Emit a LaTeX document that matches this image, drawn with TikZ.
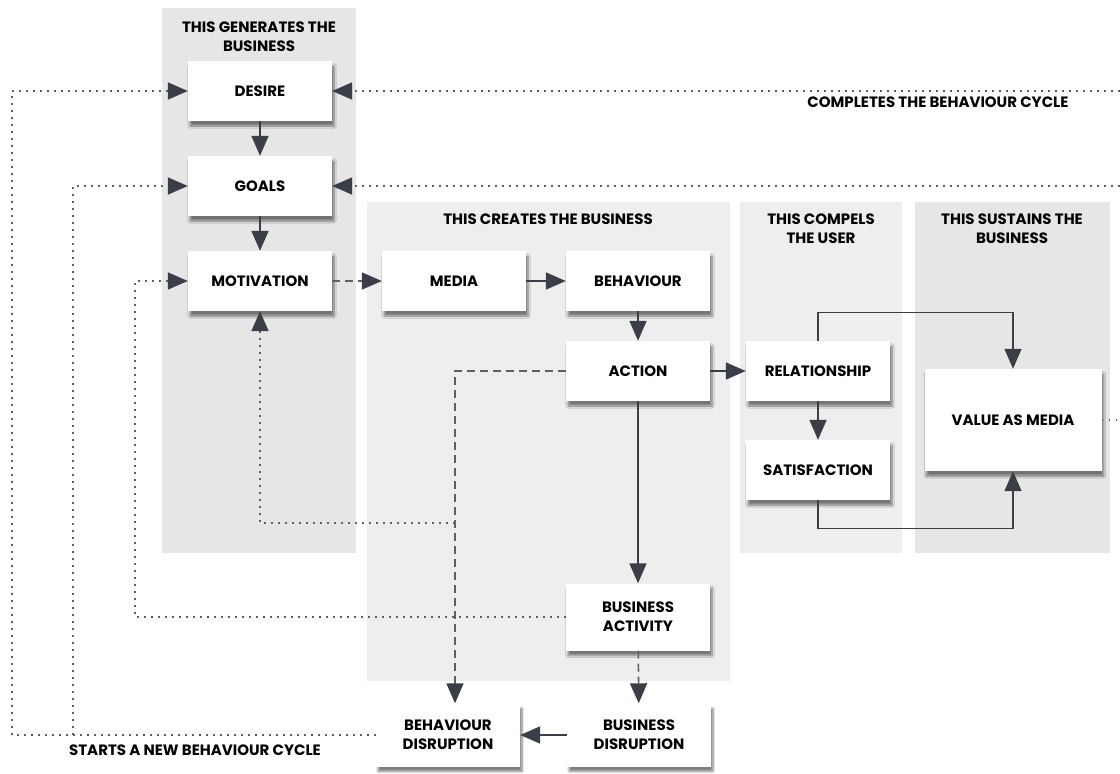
\documentclass[tikz,border=0pt]{standalone}
\usepackage{fontspec}
\setmainfont{Poppins}
\usepackage{xcolor}
\usetikzlibrary{arrows.meta}
\usetikzlibrary{positioning}
\usetikzlibrary{shadows.blur}
\definecolor{ink}{HTML}{3A3E47}
\definecolor{dots}{HTML}{5E6068}
\definecolor{panelA}{HTML}{E6E6E6}
\definecolor{panelB}{HTML}{EEEEEE}

\begin{document}
\begin{tikzpicture}[x=1pt, y=-1pt,
    every node/.append style={font=\bfseries\fontsize{15}{19}\selectfont, align=center},
    box/.style={fill=white, minimum width=144pt, minimum height=60pt,
      blur shadow={shadow xshift=2pt, shadow yshift=-5pt, shadow blur steps=8, shadow opacity=50}},
    tip/.style={-{Triangle[length=20pt, width=17pt, color=ink]}},
    flow/.style={draw=ink, line width=1.8pt, tip},
    loop/.style={draw=ink, line width=1.3pt, tip},
    dashflow/.style={draw=dots, line width=1.6pt, dash pattern=on 8pt off 5pt, tip},
    dotline/.style={draw=dots, line width=1.6pt, dash pattern=on 1.6pt off 5.4pt},
    dotflow/.style={dotline, tip}]

      \useasboundingbox (0,0) rectangle (1120,774);

      \fill [panelA] (162,8) rectangle (356,553);
      \fill [panelB] (367,202) rectangle (730,681);
      \fill [panelB] (740,202) rectangle (902,553);
      \fill [panelA] (915,202) rectangle (1110,553);

      \node (generates) at (259,37) {THIS GENERATES THE\\BUSINESS};
      \node (creates) at (548,219) {THIS CREATES THE BUSINESS};
      \node (compels) at (821,229) {THIS COMPELS\\THE USER};
      \node (sustains) at (1012,229) {THIS SUSTAINS THE\\BUSINESS};

      \node [box] (desire) at (260,91) {DESIRE};
      \node [box] (goals) at (260,186) {GOALS};
      \node [box] (motivation) at (260,281) {MOTIVATION};
      \node [box] (media) at (454,281) {MEDIA};
      \node [box] (behaviour) at (638,281) {BEHAVIOUR};
      \node [box] (action) at (638,371) {ACTION};
      \node [box] (relationship) at (818,371) {RELATIONSHIP};
      \node [box] (satisfaction) at (818,470) {SATISFACTION};
      \node [box, minimum width=177pt, minimum height=102pt] (value) at (1013,420) {VALUE AS MEDIA};
      \node [box, minimum height=67pt] (busact) at (638,617) {BUSINESS\\ACTIVITY};
      \node [box, minimum height=63pt] (busdis) at (639,735) {BUSINESS\\DISRUPTION};
      \node [box, minimum height=63pt] (behdis) at (448,735) {BEHAVIOUR\\DISRUPTION};

      \node [anchor=east] (completes) at (1072,102) {COMPLETES THE BEHAVIOUR CYCLE};
      \node (starts) at (195,750) {STARTS A NEW BEHAVIOUR CYCLE};

      \coordinate (edgeA) at (1120,91);
      \coordinate (edgeB) at (1120,186);
      \coordinate (edgeC) at (1120,420);

      \draw [flow] (desire) -- (goals);
      \draw [flow] (goals) -- (motivation);
      \draw [dashflow] (motivation) -- (media);
      \draw [flow] (media) -- (behaviour);
      \draw [flow] (behaviour) -- (action);
      \draw [flow] (action) -- (relationship);
      \draw [flow] (action) -- (busact);
      \draw [dashflow] (busact) -- (busdis);
      \draw [flow] (busdis) -- (behdis);
      \draw [flow] (relationship) -- (satisfaction);
      \draw [loop] (relationship.north) -- ++(0,-28) -| (value.north);
      \draw [loop] (satisfaction.south) -- ++(0,28) -| (value.south);

      \draw [dotflow] (edgeA) -- (desire.east);
      \draw [dotflow] (edgeB) -- (goals.east);
      \draw [dotline] (value.east) -- (edgeC);
      \draw [dotflow] (behdis.west) -- (12,735) |- (desire.west);
      \draw [dotflow] (73,735) |- (goals.west);
      \draw [dotflow] (busact.west) -- (135,617) |- (motivation.west);
      \draw [dashflow] (action.west) -| ([xshift=7pt]behdis.north);
      \draw [dotflow] (455,523) -| (motivation.south);

    \end{tikzpicture}
\end{document}
